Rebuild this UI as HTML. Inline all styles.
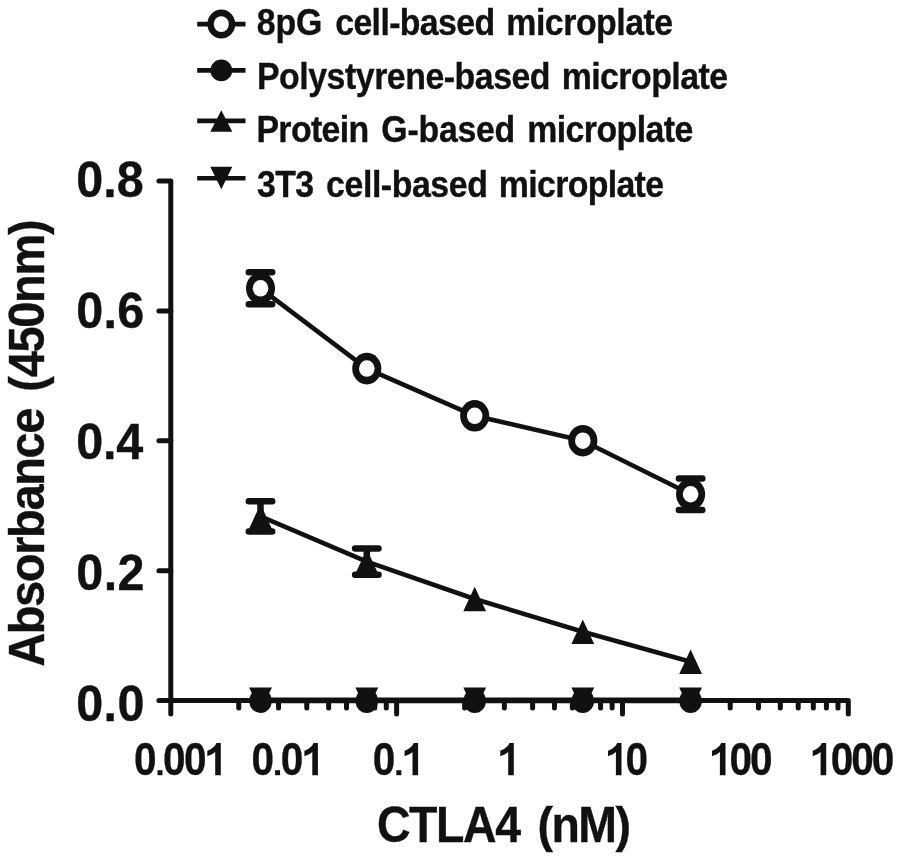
<!DOCTYPE html><html><head><meta charset="utf-8"><style>html,body{margin:0;padding:0;background:#fff;width:900px;height:861px;overflow:hidden}svg{display:block;will-change:transform;filter:blur(0.55px)}</style></head><body>
<svg width="900" height="861" viewBox="0 0 900 861" font-family="Liberation Sans, sans-serif" font-weight="bold" fill="#111">
<path d="M158.90 181.00H170.80V714.00" fill="none" stroke="#111" stroke-width="5.0" stroke-linecap="round" stroke-linejoin="round"/>
<path d="M158.90 700.60H848.30V714.00" fill="none" stroke="#111" stroke-width="5.0" stroke-linecap="round" stroke-linejoin="round"/>
<path d="M158.90 570.70H170.80M158.90 440.80H170.80M158.90 310.90H170.80M238.78 700.60V708.00M278.55 700.60V708.00M306.77 700.60V708.00M328.65 700.60V708.00M346.53 700.60V708.00M361.65 700.60V708.00M374.75 700.60V708.00M386.30 700.60V708.00M396.63 700.60V714.00M464.62 700.60V708.00M504.38 700.60V708.00M532.60 700.60V708.00M554.48 700.60V708.00M572.37 700.60V708.00M587.48 700.60V708.00M600.58 700.60V708.00M612.13 700.60V708.00M622.47 700.60V714.00M690.45 700.60V708.00M730.22 700.60V708.00M758.43 700.60V708.00M780.32 700.60V708.00M798.20 700.60V708.00M813.32 700.60V708.00M826.41 700.60V708.00M837.97 700.60V708.00" fill="none" stroke="#111" stroke-width="5.0" stroke-linecap="round"/>
<path d="M260.50 288.30 L366.80 368.60 L474.70 415.80 L582.80 440.70 L690.60 494.25" fill="none" stroke="#111" stroke-width="4.6" stroke-linejoin="round"/>
<path d="M260.50 516.40 L366.80 561.60 L474.70 599.00 L582.80 631.70 L690.60 661.70" fill="none" stroke="#111" stroke-width="4.6" stroke-linejoin="round"/>
<path d="M260.50 701.00 L366.80 701.00 L474.70 701.00 L582.80 701.00 L690.60 701.00" fill="none" stroke="#111" stroke-width="4.6" stroke-linejoin="round"/>
<path d="M260.50 699.75 L366.80 699.75 L474.70 699.75 L582.80 699.75 L690.60 699.75" fill="none" stroke="#111" stroke-width="4.6" stroke-linejoin="round"/>
<path d="M260.50 272.30V304.30M248.80 272.30H272.20M248.80 304.30H272.20" fill="none" stroke="#111" stroke-width="6.5" stroke-linecap="round"/>
<path d="M690.60 478.55V509.95M678.90 478.55H702.30M678.90 509.95H702.30" fill="none" stroke="#111" stroke-width="6.5" stroke-linecap="round"/>
<ellipse cx="260.50" cy="701.00" rx="11.3" ry="12.0" fill="#111"/>
<ellipse cx="366.80" cy="701.00" rx="11.3" ry="12.0" fill="#111"/>
<ellipse cx="474.70" cy="701.00" rx="11.3" ry="12.0" fill="#111"/>
<ellipse cx="582.80" cy="701.00" rx="11.3" ry="12.0" fill="#111"/>
<ellipse cx="690.60" cy="701.00" rx="11.3" ry="12.0" fill="#111"/>
<path d="M260.50 712.00L271.90 687.50L249.10 687.50Z" fill="#111"/>
<path d="M366.80 712.00L378.20 687.50L355.40 687.50Z" fill="#111"/>
<path d="M474.70 712.00L486.10 687.50L463.30 687.50Z" fill="#111"/>
<path d="M582.80 712.00L594.20 687.50L571.40 687.50Z" fill="#111"/>
<path d="M690.60 712.00L702.00 687.50L679.20 687.50Z" fill="#111"/>
<path d="M260.50 504.15L271.90 528.65V530.65H249.10V528.65Z" fill="#111"/>
<path d="M366.80 549.35L378.20 573.85V575.85H355.40V573.85Z" fill="#111"/>
<path d="M474.70 586.75L486.10 611.25L463.30 611.25Z" fill="#111"/>
<path d="M582.80 619.45L594.20 643.95L571.40 643.95Z" fill="#111"/>
<path d="M690.60 649.45L702.00 673.95L679.20 673.95Z" fill="#111"/>
<path d="M260.50 501.20V531.60M248.80 501.20H272.20M248.80 531.60H272.20" fill="none" stroke="#111" stroke-width="6.5" stroke-linecap="round"/>
<path d="M366.80 548.40V574.80M355.10 548.40H378.50M355.10 574.80H378.50" fill="none" stroke="#111" stroke-width="6.5" stroke-linecap="round"/>
<ellipse cx="260.50" cy="288.30" rx="14.55" ry="15.8" fill="#111"/>
<ellipse cx="260.50" cy="288.30" rx="7.8" ry="8.25" fill="#fff"/>
<ellipse cx="366.80" cy="368.60" rx="14.55" ry="15.8" fill="#111"/>
<ellipse cx="366.80" cy="368.60" rx="7.8" ry="8.25" fill="#fff"/>
<ellipse cx="474.70" cy="415.80" rx="14.55" ry="15.8" fill="#111"/>
<ellipse cx="474.70" cy="415.80" rx="7.8" ry="8.25" fill="#fff"/>
<ellipse cx="582.80" cy="440.70" rx="14.55" ry="15.8" fill="#111"/>
<ellipse cx="582.80" cy="440.70" rx="7.8" ry="8.25" fill="#fff"/>
<ellipse cx="690.60" cy="494.25" rx="14.55" ry="15.8" fill="#111"/>
<ellipse cx="690.60" cy="494.25" rx="7.8" ry="8.25" fill="#fff"/>
<path d="M197.2 24.1H245.5" stroke="#111" stroke-width="4.6"/>
<path d="M197.2 70.4H245.5" stroke="#111" stroke-width="4.6"/>
<path d="M197.2 120.9H245.5" stroke="#111" stroke-width="4.6"/>
<path d="M197.2 178.2H245.5" stroke="#111" stroke-width="4.6"/>
<ellipse cx="221.3" cy="24.1" rx="13.9" ry="14.5" fill="#111"/>
<ellipse cx="221.3" cy="24.1" rx="7.6" ry="7.9" fill="#fff"/>
<circle cx="221.3" cy="70.4" r="10.9" fill="#111"/>
<path d="M221.30 110.25L232.30 131.85L210.30 131.85Z" fill="#111"/>
<path d="M221.30 189.35L232.30 166.75L210.30 166.75Z" fill="#111"/>
<text x="256.73" y="35.00" font-size="36" letter-spacing="-0.109" textLength="65.51" lengthAdjust="spacingAndGlyphs" stroke="#111" stroke-width="0.35">8pG</text>
<text x="335.22" y="35.00" font-size="36" letter-spacing="-0.665" textLength="159.27" lengthAdjust="spacingAndGlyphs" stroke="#111" stroke-width="0.35">cell-based</text>
<text x="506.33" y="35.00" font-size="36" letter-spacing="-0.508" textLength="166.37" lengthAdjust="spacingAndGlyphs" stroke="#111" stroke-width="0.35">microplate</text>
<text x="257.03" y="89.20" font-size="36" letter-spacing="-0.494" textLength="293.04" lengthAdjust="spacingAndGlyphs" stroke="#111" stroke-width="0.35">Polystyrene-based</text>
<text x="561.63" y="89.20" font-size="36" letter-spacing="-0.560" textLength="165.88" lengthAdjust="spacingAndGlyphs" stroke="#111" stroke-width="0.35">microplate</text>
<text x="256.43" y="142.40" font-size="36" letter-spacing="-0.670" textLength="112.17" lengthAdjust="spacingAndGlyphs" stroke="#111" stroke-width="0.35">Protein</text>
<text x="381.35" y="142.40" font-size="36" letter-spacing="-0.255" textLength="133.72" lengthAdjust="spacingAndGlyphs" stroke="#111" stroke-width="0.35">G-based</text>
<text x="527.23" y="142.40" font-size="36" letter-spacing="-0.592" textLength="165.59" lengthAdjust="spacingAndGlyphs" stroke="#111" stroke-width="0.35">microplate</text>
<text x="257.07" y="196.70" font-size="36" letter-spacing="-0.703" textLength="56.34" lengthAdjust="spacingAndGlyphs" stroke="#111" stroke-width="0.35">3T3</text>
<text x="326.12" y="196.70" font-size="36" letter-spacing="-0.452" textLength="161.27" lengthAdjust="spacingAndGlyphs" stroke="#111" stroke-width="0.35">cell-based</text>
<text x="498.83" y="196.70" font-size="36" letter-spacing="-0.707" textLength="164.50" lengthAdjust="spacingAndGlyphs" stroke="#111" stroke-width="0.35">microplate</text>
<text x="76.21" y="197.30" font-size="49.5" letter-spacing="0.033" textLength="67.54" lengthAdjust="spacingAndGlyphs" stroke="#111" stroke-width="0.35">0.8</text>
<text x="76.21" y="328.20" font-size="49.5" letter-spacing="0.314" textLength="68.37" lengthAdjust="spacingAndGlyphs" stroke="#111" stroke-width="0.35">0.6</text>
<text x="76.21" y="459.20" font-size="49.5" letter-spacing="-0.159" textLength="66.98" lengthAdjust="spacingAndGlyphs" stroke="#111" stroke-width="0.35">0.4</text>
<text x="76.21" y="590.20" font-size="49.5" letter-spacing="0.478" textLength="68.84" lengthAdjust="spacingAndGlyphs" stroke="#111" stroke-width="0.35">0.2</text>
<text x="76.21" y="721.10" font-size="49.5" letter-spacing="0.418" textLength="68.68" lengthAdjust="spacingAndGlyphs" stroke="#111" stroke-width="0.35">0.0</text>
<text x="376.91" y="841.50" font-size="50" letter-spacing="-1.508" textLength="142.83" lengthAdjust="spacingAndGlyphs" stroke="#111" stroke-width="0.35">CTLA4</text>
<text x="537.44" y="841.50" font-size="50" letter-spacing="-1.620" textLength="92.08" lengthAdjust="spacingAndGlyphs" stroke="#111" stroke-width="0.35">(nM)</text>
<text transform="translate(43.60,666.82) rotate(-90)" font-size="50" letter-spacing="-1.470" textLength="257.82" lengthAdjust="spacingAndGlyphs" stroke="#111" stroke-width="0.35">Absorbance</text>
<text transform="translate(43.60,391.66) rotate(-90)" font-size="50" letter-spacing="-1.412" textLength="170.93" lengthAdjust="spacingAndGlyphs" stroke="#111" stroke-width="0.35">(450nm)</text>
<text x="133.96" y="775.2" font-size="47" textLength="22.55" lengthAdjust="spacingAndGlyphs" stroke="#111" stroke-width="0.35">0</text>
<rect x="157.50" y="770.20" width="5.0" height="5.0"/>
<text x="163.06" y="775.2" font-size="47" textLength="22.55" lengthAdjust="spacingAndGlyphs" stroke="#111" stroke-width="0.35">0</text>
<text x="184.06" y="775.2" font-size="47" textLength="22.55" lengthAdjust="spacingAndGlyphs" stroke="#111" stroke-width="0.35">0</text>
<path transform="translate(207.30,775.2)" d="M7.9 0H13.5V-32.2H9.1C8.2 -29.4 4.8 -26.2 0 -24.4V-19C3.2 -20 5.8 -21.4 7.9 -23.2Z"/>
<text x="251.56" y="775.2" font-size="47" textLength="22.55" lengthAdjust="spacingAndGlyphs" stroke="#111" stroke-width="0.35">0</text>
<rect x="275.10" y="770.20" width="5.0" height="5.0"/>
<text x="280.66" y="775.2" font-size="47" textLength="22.55" lengthAdjust="spacingAndGlyphs" stroke="#111" stroke-width="0.35">0</text>
<path transform="translate(304.40,775.2)" d="M7.9 0H13.5V-32.2H9.1C8.2 -29.4 4.8 -26.2 0 -24.4V-19C3.2 -20 5.8 -21.4 7.9 -23.2Z"/>
<text x="372.76" y="775.2" font-size="47" textLength="22.55" lengthAdjust="spacingAndGlyphs" stroke="#111" stroke-width="0.35">0</text>
<rect x="396.30" y="770.20" width="5.0" height="5.0"/>
<path transform="translate(404.60,775.2)" d="M7.9 0H13.5V-32.2H9.1C8.2 -29.4 4.8 -26.2 0 -24.4V-19C3.2 -20 5.8 -21.4 7.9 -23.2Z"/>
<path transform="translate(500.30,775.2)" d="M7.9 0H13.5V-32.2H9.1C8.2 -29.4 4.8 -26.2 0 -24.4V-19C3.2 -20 5.8 -21.4 7.9 -23.2Z"/>
<path transform="translate(608.00,775.2)" d="M7.9 0H13.5V-32.2H9.1C8.2 -29.4 4.8 -26.2 0 -24.4V-19C3.2 -20 5.8 -21.4 7.9 -23.2Z"/>
<text x="625.46" y="775.2" font-size="47" textLength="22.55" lengthAdjust="spacingAndGlyphs" stroke="#111" stroke-width="0.35">0</text>
<path transform="translate(712.00,775.2)" d="M7.9 0H13.5V-32.2H9.1C8.2 -29.4 4.8 -26.2 0 -24.4V-19C3.2 -20 5.8 -21.4 7.9 -23.2Z"/>
<text x="729.56" y="775.2" font-size="47" textLength="22.55" lengthAdjust="spacingAndGlyphs" stroke="#111" stroke-width="0.35">0</text>
<text x="750.06" y="775.2" font-size="47" textLength="22.55" lengthAdjust="spacingAndGlyphs" stroke="#111" stroke-width="0.35">0</text>
<path transform="translate(812.70,775.2)" d="M7.9 0H13.5V-32.2H9.1C8.2 -29.4 4.8 -26.2 0 -24.4V-19C3.2 -20 5.8 -21.4 7.9 -23.2Z"/>
<text x="830.66" y="775.2" font-size="47" textLength="22.55" lengthAdjust="spacingAndGlyphs" stroke="#111" stroke-width="0.35">0</text>
<text x="851.26" y="775.2" font-size="47" textLength="22.55" lengthAdjust="spacingAndGlyphs" stroke="#111" stroke-width="0.35">0</text>
<text x="871.86" y="775.2" font-size="47" textLength="22.55" lengthAdjust="spacingAndGlyphs" stroke="#111" stroke-width="0.35">0</text>
</svg></body></html>
